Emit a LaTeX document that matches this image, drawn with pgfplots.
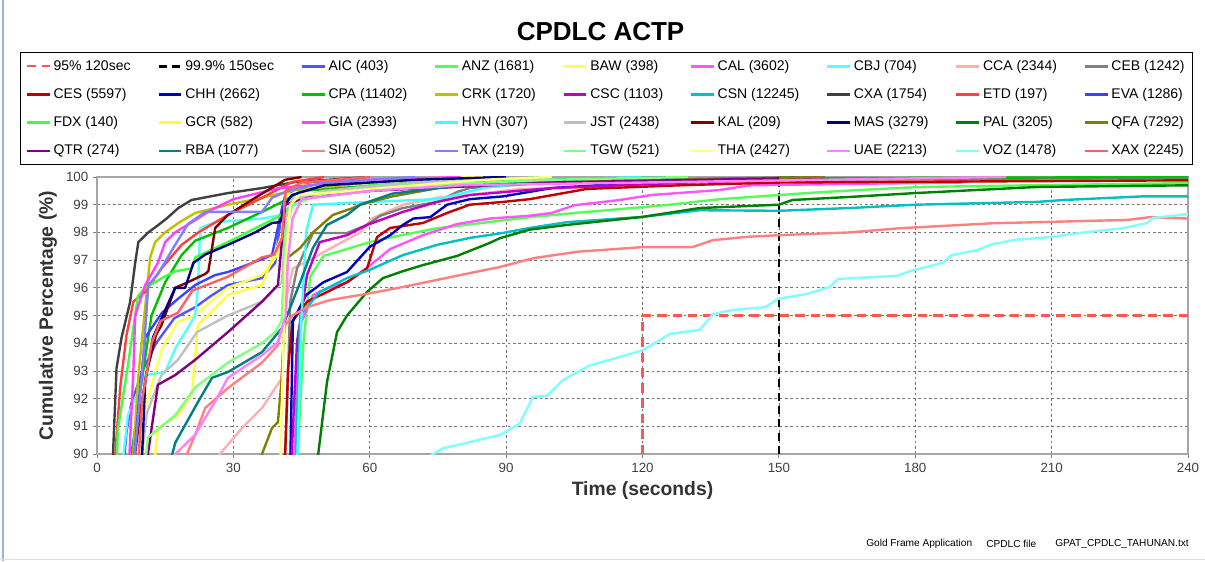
\documentclass[border=0pt]{standalone}
\usepackage{pgfplots}
\pgfplotsset{compat=1.18}
\usepackage{fontspec}
\setmainfont{Liberation Sans}
\definecolor{cREF}{HTML}{FF5555}
\definecolor{cAIC}{HTML}{5555FF}
\definecolor{cANZ}{HTML}{55FF55}
\definecolor{cBAW}{HTML}{FFFF55}
\definecolor{cCAL}{HTML}{FF55FF}
\definecolor{cCBJ}{HTML}{55FFFF}
\definecolor{cCCA}{HTML}{FFAFAF}
\definecolor{cCEB}{HTML}{808080}
\definecolor{cCES}{HTML}{C00000}
\definecolor{cCHH}{HTML}{0000C0}
\definecolor{cCPA}{HTML}{00C000}
\definecolor{cCRK}{HTML}{C0C000}
\definecolor{cCSC}{HTML}{C000C0}
\definecolor{cCSN}{HTML}{00C0C0}
\definecolor{cCXA}{HTML}{404040}
\definecolor{cETD}{HTML}{FF4040}
\definecolor{cEVA}{HTML}{4040FF}
\definecolor{cFDX}{HTML}{40FF40}
\definecolor{cGCR}{HTML}{FFFF40}
\definecolor{cGIA}{HTML}{FF40FF}
\definecolor{cHVN}{HTML}{40FFFF}
\definecolor{cJST}{HTML}{C0C0C0}
\definecolor{cKAL}{HTML}{800000}
\definecolor{cMAS}{HTML}{000080}
\definecolor{cPAL}{HTML}{008000}
\definecolor{cQFA}{HTML}{808000}
\definecolor{cQTR}{HTML}{800080}
\definecolor{cRBA}{HTML}{008080}
\definecolor{cSIA}{HTML}{FF8080}
\definecolor{cTAX}{HTML}{8080FF}
\definecolor{cTGW}{HTML}{80FF80}
\definecolor{cTHA}{HTML}{FFFF80}
\definecolor{cUAE}{HTML}{FF80FF}
\definecolor{cVOZ}{HTML}{80FFFF}
\definecolor{cXAX}{HTML}{FF6060}
\begin{document}
\begin{tikzpicture}
\useasboundingbox (0,0) rectangle (903.75pt,420.75pt);
\draw[color={rgb,255:red,160;green,178;blue,215}, line width=1.5pt] (2.25pt,0pt) -- (2.25pt,420.75pt);
\draw[color=gray!25, line width=1pt] (0pt,1pt) -- (903.75pt,1pt);
\node[font=\bfseries\fontsize{19.5}{22}\selectfont] at (450.4pt,396.75pt) {CPDLC ACTP};
\node[font=\fontsize{7.6}{8.5}\selectfont, anchor=west, inner sep=0pt] at (649.5pt,12.75pt) {Gold Frame Application};
\node[font=\fontsize{7.6}{8.5}\selectfont, anchor=west, inner sep=0pt] at (739.5pt,12.75pt) {CPDLC file};
\node[font=\fontsize{7.6}{8.5}\selectfont, anchor=west, inner sep=0pt] at (791.25pt,12.75pt) {GPAT\_CPDLC\_TAHUNAN.txt};
\begin{axis}[
  at={(72.75pt,80.25pt)}, anchor=south west,
  scale only axis, width=818.25pt, height=207.75pt,
  xmin=0, xmax=240, ymin=90, ymax=100,
  xtick={0,30,...,240}, ytick={90,91,...,100},
  /pgf/number format/assume math mode=true,
  tick label style={font=\fontsize{10}{12}\selectfont, text=black!75},
  grid=major,
  grid style={dash pattern=on 2pt off 2pt, black!55, line width=0.5pt},
  axis line style={gray!70, line width=0.8pt},
  tick style={gray, line width=0.6pt},
  tick align=outside, tick pos=left, major tick length=3pt,
  xlabel={Time (seconds)}, ylabel={Cumulative Percentage (\%)},
  label style={font=\bfseries\fontsize{14.5}{16}\selectfont, text=black!80},
  every axis plot/.append style={line width=1.8pt, line join=round, no marks},
  legend columns=9,
  legend cell align=left,
  legend style={at={(axis description cs:0.467,1.247)}, anchor=center,
    draw=black, line width=0.8pt, font=\fontsize{10.5}{12}\selectfont,
    /tikz/every even column/.append style={column sep=18pt},
    row sep=8pt, inner xsep=4pt, inner ysep=3.5pt},
]
\addplot[cREF, dash pattern=on 7pt off 4.5pt, line width=1.6pt] coordinates {(120,90)(120,95)(240,95)};
\addlegendentry{95\% 120sec}
\addplot[black, dash pattern=on 6pt off 4pt, line width=2pt] coordinates {(150,90)(150,99.9)(240,99.9)};
\addlegendentry{99.9\% 150sec}
\addplot[cAIC] coordinates {(5.8,89.5)(6.5,90.8)(7.5,91.8)(10,93.0)(13,94.0)(17,94.9)(21.6,95.3)(25,95.7)(28.8,96.1)(36.3,96.35)(39.2,96.9)(40.5,98.6)(41.5,99.35)(45,99.7)(60,99.88)(90,100)};
\addlegendentry{AIC (403)}
\addplot[cANZ] coordinates {(44,89.5)(45.4,94.0)(46.9,96.4)(49.8,97.15)(55,97.4)(60,97.65)(67,97.9)(74.8,98.15)(85,98.35)(95.2,98.55)(105,98.7)(115,98.84)(126,99.0)(137,99.2)(150,99.35)(159,99.45)(170,99.55)(181,99.64)(205,99.7)(240,99.78)};
\addlegendentry{ANZ (1681)}
\addplot[cBAW] coordinates {(7,89.5)(7.5,90.3)(10.6,91.66)(14.3,93.8)(17.8,94.77)(21.6,95.0)(25,95.5)(28.8,96.0)(36.3,96.46)(39.2,97.07)(40.7,97.65)(41.5,99.3)(43,99.6)(50,99.8)(70,99.95)(85,100)};
\addlegendentry{BAW (398)}
\addplot[cCAL] coordinates {(43.3,89.5)(44,92.5)(44.7,94.66)(47.5,95.74)(51,96.0)(55,96.2)(60,96.8)(64.5,97.4)(71.7,97.9)(79.2,98.3)(86.4,98.5)(95,98.6)(100,98.7)(105,98.98)(115,99.17)(122,99.35)(137,99.53)(143.6,99.7)(165,99.75)(190,99.8)(195,99.93)(240,99.95)};
\addlegendentry{CAL (3602)}
\addplot[cCBJ] coordinates {(5.5,89.5)(6.8,91.4)(10.6,92.85)(15,92.96)(17.2,93.8)(21.6,95.0)(22.2,96.0)(22.7,98.16)(26,98.37)(36.3,98.5)(40.7,98.63)(42,98.88)(50,99.5)(80,99.8)(100,100)};
\addlegendentry{CBJ (704)}
\addplot[cCCA] coordinates {(26,89.8)(31.9,90.94)(36.3,91.66)(39.2,92.38)(40.5,92.7)(41.8,95.74)(43.1,96.7)(47.5,97.07)(52.8,97.55)(57.9,98.0)(60.5,98.5)(67.3,99.0)(74.8,99.25)(82,99.35)(93,99.57)(115,99.64)(137,99.82)(180,99.9)(240,99.95)};
\addlegendentry{CCA (2344)}
\addplot[cCEB] coordinates {(41.2,89.5)(41.8,91.66)(42.5,95.5)(44,96.7)(47.5,97.98)(55,97.98)(59.4,98.27)(62.3,98.6)(67.3,98.88)(74.8,99.1)(79.2,99.46)(82,99.6)(100,99.8)(150,99.9)(240,99.97)};
\addlegendentry{CEB (1242)}
\addplot[cCES] coordinates {(41.3,89.5)(42,93)(43,94.8)(46.2,95.5)(50,95.8)(55,96.2)(59.4,96.7)(61.6,97.83)(64.5,98.16)(71.7,98.34)(77,98.7)(82,99.0)(89.3,99.1)(95.2,99.2)(107.8,99.57)(129.8,99.71)(150,99.8)(240,99.88)};
\addlegendentry{CES (5597)}
\addplot[cCHH] coordinates {(42.5,89.5)(43.1,94.8)(46,95.74)(49.8,96.2)(55,96.57)(60,97.48)(64.5,97.9)(67.3,98.27)(69.6,98.5)(73.3,98.55)(77,99.0)(82,99.2)(89.3,99.3)(100,99.6)(130,99.9)(160,100)};
\addlegendentry{CHH (2662)}
\addplot[cCPA] coordinates {(7.3,89.5)(7.6,90)(9.8,92.6)(12,95.0)(15,96.2)(18.6,97.18)(21.6,97.7)(28.8,98.16)(36.3,98.74)(40.7,99.1)(45,99.5)(70,99.8)(150,99.95)(240,100)};
\addlegendentry{CPA (11402)}
\addplot[cCRK] coordinates {(7.8,89.5)(9.1,92.85)(10.6,95.3)(11.7,97.1)(12.8,97.65)(15,98.0)(17.9,98.34)(21.6,98.7)(28.8,99.0)(36.3,99.25)(43.6,99.53)(60,99.8)(80,100)};
\addlegendentry{CRK (1720)}
\addplot[cCSC] coordinates {(42.7,89.5)(44,94.04)(46.2,96.46)(49,97.65)(55,97.9)(59.4,98.27)(67.3,98.74)(74.8,99.1)(82,99.35)(100,99.6)(130,99.8)(160,99.95)};
\addlegendentry{CSC (1103)}
\addplot[cCSN] coordinates {(43.7,89.5)(44.7,95.0)(49,95.85)(55,96.35)(60,96.65)(67.3,97.18)(74.8,97.55)(82,97.8)(89.3,97.98)(95.2,98.16)(103.4,98.37)(120,98.56)(132.6,98.8)(150,98.78)(165.6,98.88)(180,99.0)(206.8,99.1)(212.6,99.17)(230,99.3)(240,99.3)};
\addlegendentry{CSN (12245)}
\addplot[cCXA] coordinates {(3.4,89.5)(4.3,93.1)(5.4,94.2)(7.3,95.5)(8.4,96.9)(9.1,97.65)(11.3,98.0)(13.5,98.27)(15.3,98.5)(17.9,98.88)(20.8,99.17)(28.8,99.42)(36.3,99.6)(43.6,99.82)(60,100)};
\addlegendentry{CXA (1754)}
\addplot[cETD] coordinates {(3.8,89.5)(5.1,92.4)(6.5,94.3)(8,95.5)(10.6,95.85)(14.2,96.7)(18.6,97.55)(22.3,98.0)(28.8,98.63)(36.3,99.25)(42.9,99.82)(50,100)};
\addlegendentry{ETD (197)}
\addplot[cEVA] coordinates {(8,89.5)(9,91.5)(10.6,94.2)(14.3,95.1)(17.8,95.6)(21.6,96.1)(26,96.46)(28.8,96.57)(32.6,96.8)(38.5,97.18)(40.7,98.88)(41.8,99.6)(50,99.85)(80,100)};
\addlegendentry{EVA (1286)}
\addplot[cFDX] coordinates {(4.3,89.5)(4.6,90.9)(6.8,93.2)(9,95.7)(10.6,96.0)(14.3,96.35)(17.2,96.6)(20.9,96.7)(21.6,97.1)(28.8,97.65)(36.3,98.27)(40.7,98.63)(45,99.3)(60,99.7)(100,100)};
\addlegendentry{FDX (140)}
\addplot[cGCR] coordinates {(12.5,89.5)(13.4,90.94)(17.8,91.4)(20.9,92.2)(22.2,94.66)(24.4,95.0)(28.8,95.74)(36.3,96.1)(39.2,97.3)(40.7,97.9)(41.5,99.5)(45,99.7)(60,99.9)(80,100)};
\addlegendentry{GCR (582)}
\addplot[cGIA] coordinates {(7,89.5)(8,93)(8.4,95)(10.6,96.1)(13.4,96.9)(15,97.65)(17.2,98.0)(20.9,98.37)(25,98.8)(30,99.2)(40,99.6)(60,99.9)(80,100)};
\addlegendentry{GIA (2393)}
\addplot[cHVN] coordinates {(44,89.5)(45,95)(46,98)(47.5,99.0)(60,99.1)(75,99.2)(85,99.6)(100,99.9)(120,100)};
\addlegendentry{HVN (307)}
\addplot[cJST] coordinates {(9.5,89.5)(11,91.5)(14.2,92.85)(17.8,93.4)(22,94.4)(28.8,95.0)(36.3,95.5)(39.2,96.0)(40.7,96.2)(41.5,98.5)(43,99.2)(50,99.5)(70,99.8)(100,100)};
\addlegendentry{JST (2438)}
\addplot[cKAL] coordinates {(8,89.5)(9.5,91.5)(11,93)(13,94.3)(14.2,94.66)(17.2,96.0)(20,96.2)(23.8,96.5)(24.5,96.6)(26,98.16)(28.8,98.63)(34.8,99.25)(41.4,99.9)(45,100)};
\addlegendentry{KAL (209)}
\addplot[cMAS] coordinates {(9.8,89.5)(10.6,92.6)(12.3,94.2)(17.2,96.0)(19.4,96.0)(21.2,96.9)(23.8,97.2)(28.8,97.55)(34.8,98.0)(38.5,98.34)(40.3,98.37)(41.4,99.0)(42.9,99.35)(50,99.7)(70,99.9)(90,100)};
\addlegendentry{MAS (3279)}
\addplot[cPAL] coordinates {(48.3,89.5)(50.6,92.6)(52.8,94.4)(55,95.0)(59.4,95.85)(62.9,96.35)(67.3,96.6)(71.7,96.82)(79.2,97.15)(86.4,97.62)(88.6,97.79)(95.2,98.1)(103.4,98.27)(120,98.56)(132.6,98.88)(150,99.0)(153,99.17)(165.6,99.28)(180,99.42)(206.8,99.64)(240,99.7)};
\addlegendentry{PAL (3205)}
\addplot[cQFA] coordinates {(35.5,89.5)(36.3,90)(38.5,90.94)(39.8,91.15)(40.7,92.85)(41.8,97.07)(44.7,97.44)(47.5,98.0)(51.9,98.63)(56.3,98.88)(57.9,99.0)(65,99.3)(75,99.6)(90,99.8)(120,99.9)(160,100)};
\addlegendentry{QFA (7292)}
\addplot[cQTR] coordinates {(11,89.5)(11.2,90)(13.4,92.5)(17.2,92.85)(21.6,93.4)(28.8,94.4)(36.3,95.5)(39.8,96.1)(41.4,99.0)(46.4,99.25)(60,99.5)(100,99.8)(150,99.95)};
\addlegendentry{QTR (274)}
\addplot[cRBA] coordinates {(15.8,89.5)(17.2,90.4)(21.6,91.7)(25.3,92.75)(28.8,92.96)(36.3,93.68)(40.7,94.55)(41.8,95.0)(44.7,96.2)(47.5,97.44)(50.6,98.27)(55,98.63)(57.9,99.0)(65,99.4)(80,99.7)(100,99.9)(130,100)};
\addlegendentry{RBA (1077)}
\addplot[cSIA] coordinates {(18.5,89.5)(21.6,90.7)(23.8,91.66)(28.8,92.38)(36.3,93.3)(39.8,93.93)(40.3,94.4)(43,95.0)(46.2,95.3)(51.3,95.56)(60,95.8)(67.3,96.03)(82,96.53)(88.6,96.75)(96,97.07)(105.6,97.3)(120,97.47)(131,97.47)(135.5,97.72)(143,97.84)(150,97.9)(165.6,98.0)(176.6,98.15)(197,98.33)(209.6,98.38)(226.6,98.45)(231.6,98.55)(240,98.5)};
\addlegendentry{SIA (6052)}
\addplot[cTAX] coordinates {(8,89.5)(9.9,92.85)(11.3,96.1)(13.4,96.5)(17,97.5)(20,98.3)(23.8,98.74)(36.3,98.74)(38.5,99.25)(42,99.5)(50,99.8)(70,100)};
\addlegendentry{TAX (219)}
\addplot[cTGW] coordinates {(10.5,89.5)(11.2,90.6)(17.2,91.4)(21.6,92.4)(28.8,93.3)(36.3,94.0)(39.2,94.4)(40.6,94.8)(41.5,98.0)(43,99.0)(50,99.4)(70,99.7)(100,99.9)(130,100)};
\addlegendentry{TGW (521)}
\addplot[cTHA] coordinates {(40.3,89.5)(41.5,97)(42.5,99)(44.6,99.35)(56,99.5)(70,99.7)(85,99.9)(100,100)};
\addlegendentry{THA (2427)}
\addplot[cUAE] coordinates {(16,89.8)(21.6,90.7)(26,91.9)(28.8,92.75)(36.3,93.57)(39.8,94.04)(41.5,95)(42,97)(43,98.5)(45,99.2)(60,99.5)(80,99.7)(120,99.8)(180,99.95)(200,100)};
\addlegendentry{UAE (2213)}
\addplot[cVOZ] coordinates {(72,89.8)(76,90.2)(88.7,90.69)(93,91.1)(95.9,92.06)(99,92.1)(102.5,92.67)(108.4,93.2)(113.5,93.43)(120.1,93.75)(126,94.33)(132.6,94.48)(135.5,95.05)(139.9,95.2)(147,95.3)(149.8,95.6)(156.2,95.78)(161.2,96.03)(163,96.32)(176,96.43)(178.8,96.6)(186,96.9)(188,97.18)(193.6,97.36)(197,97.58)(202,97.73)(209.6,97.83)(217,98.0)(225.7,98.15)(231,98.34)(232.3,98.52)(240,98.66)};
\addlegendentry{VOZ (1478)}
\addplot[cXAX] coordinates {(9,89.5)(10,92)(12,94)(14,94.8)(17.8,95.1)(21,95.9)(28.8,96.4)(36.3,97.1)(39,97.2)(40.7,97.8)(41.5,99.5)(45,99.8)(60,100)};
\addlegendentry{XAX (2245)}
\end{axis}
\end{tikzpicture}
\end{document}
